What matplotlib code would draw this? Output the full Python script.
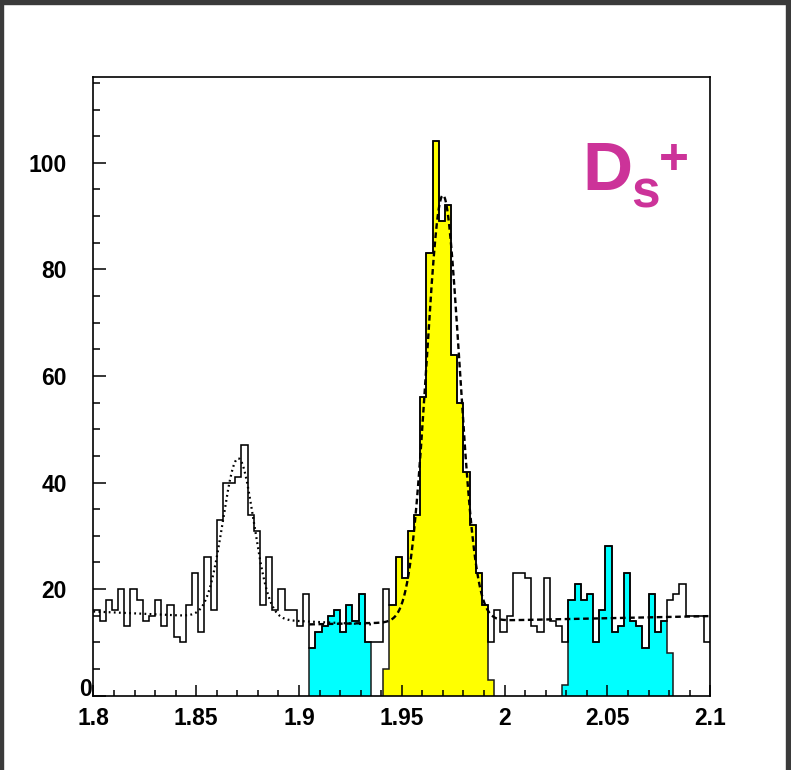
import numpy as np
import matplotlib
matplotlib.use("Agg")
import matplotlib.pyplot as plt
from matplotlib.patches import Rectangle
from matplotlib.ticker import MultipleLocator

# ---------------- data ----------------
x_min, x_max, n_bins = 1.8, 2.1, 100

counts = [16, 14, 18, 16, 20, 13, 20, 18, 14, 15,
          18, 13, 17, 11, 10, 17, 23, 12, 26, 16,
          33, 40, 40, 41, 47, 34, 31, 17, 26, 16,
          20, 16, 16, 13, 19, 9, 12, 13, 15, 16,
          12, 17, 14, 19, 10, 10, 10, 20, 17, 26,
          22, 31, 34, 56, 83, 104, 89, 92, 64, 55,
          42, 32, 23, 17, 10, 16, 12, 15, 23, 23,
          22, 13, 12, 22, 14, 13, 10, 18, 21, 18,
          19, 10, 16, 28, 12, 13, 23, 14, 13, 9,
          19, 12, 14, 18, 19, 21, 15, 15, 15, 10]

signal_first_bin = 47
signal_fill = [5, 17, 26, 22, 31, 34, 56, 83, 104, 89, 92, 64, 55, 42, 32, 23, 17, 3]

side_lo_first_bin = 35
side_lo_fill = [9, 12, 13, 15, 16, 12, 17, 14, 19, 10]

side_hi_first_bin = 76
side_hi_fill = [2, 18, 21, 18, 19, 10, 16, 28, 12, 13, 23, 14, 13, 9, 19, 12, 14, 8]

# fitted curves (parameters)
dplus_fit = {"mean": 1.8705, "sigma": 0.0075, "amp": 30.0,
             "bkg0": 15.8, "bkg_slope": -18.0, "bkg_ref": 1.8,
             "lo": 1.8, "hi": 1.935}
ds_fit = {"mean": 1.970, "sigma": 0.0080, "amp": 80.0,
          "bkg0": 13.5, "bkg_slope": 8.0, "bkg_ref": 1.92,
          "lo": 1.905, "hi": 2.1}

x_ticks = [1.8, 1.85, 1.9, 1.95, 2.0, 2.05, 2.1]
x_tick_labels = ["1.8", "1.85", "1.9", "1.95", "2", "2.05", "2.1"]
y_ticks = [0, 20, 40, 60, 80, 100]
y_tick_labels = ["0", "20", "40", "60", "80", "100"]
y_max = 116.1

title_main, title_sub, title_sup = "D", "s", "+"

# ---------------- figure ----------------
W, H = 791, 770
fig = plt.figure(figsize=(W / 100, H / 100), dpi=100)
fig.patch.set_facecolor("white")

def fx(px):
    return px / W

def fy(py):
    return 1 - py / H

ax_l, ax_r, ax_t, ax_b = 93.4, 710.2, 77.0, 695.7
ax = fig.add_axes([fx(ax_l), fy(ax_b), fx(ax_r - ax_l), (ax_b - ax_t) / H])

edges = np.linspace(x_min, x_max, n_bins + 1)

def fill_hist(values, first, color):
    e = edges[first:first + len(values) + 1]
    ax.stairs(values, e, fill=True, facecolor=color, edgecolor="none", zorder=1)
    ax.stairs(values, e, baseline=0, fill=False, color="#1a1a1a", lw=1.1, zorder=1.5)

fill_hist(side_lo_fill, side_lo_first_bin, "#00ffff")
fill_hist(side_hi_fill, side_hi_first_bin, "#00ffff")
fill_hist(signal_fill, signal_first_bin, "#ffff00")

ax.stairs(counts, edges, baseline=None, color="black", lw=1.15, zorder=2)

def fit_curve(p):
    x = np.linspace(p["lo"], p["hi"], 800)
    y = (p["bkg0"] + p["bkg_slope"] * (x - p["bkg_ref"])
         + p["amp"] * np.exp(-0.5 * ((x - p["mean"]) / p["sigma"]) ** 2))
    return x, y

xd, yd = fit_curve(dplus_fit)
ax.plot(xd, yd, color="black", lw=1.6, linestyle=(0, (0.8, 1.5)), zorder=3)
xs, ys = fit_curve(ds_fit)
ax.plot(xs, ys, color="black", lw=1.7, linestyle=(0, (2.4, 1.5)), zorder=3)

ax.set_xlim(x_min, x_max)
ax.set_ylim(0, y_max)

font = "Liberation Sans"
ax.set_xticks(x_ticks)
ax.set_xticklabels(x_tick_labels, fontfamily=font, fontweight="bold", fontsize=16.5)
ax.set_yticks(y_ticks)
ax.set_yticklabels(y_tick_labels, fontfamily=font, fontweight="bold", fontsize=16.5)
ax.xaxis.set_minor_locator(MultipleLocator(0.01))
ax.yaxis.set_minor_locator(MultipleLocator(5))
ax.tick_params(axis="both", which="both", direction="in", top=False, right=False,
               width=1.1, color="black")
ax.tick_params(axis="x", which="major", length=8, pad=8)
ax.tick_params(axis="x", which="minor", length=4.5)
ax.tick_params(axis="y", which="major", length=9.5, pad=19)
ax.tick_params(axis="y", which="minor", length=5)
for s in ax.spines.values():
    s.set_linewidth(1.2)
    s.set_color("black")

# the "0" label sits in the corner next to the axis
ax.get_yticklabels()[0].set_visible(False)
fig.text(fx(92), fy(689), y_tick_labels[0], ha="right", va="center",
         fontfamily=font, fontweight="bold", fontsize=16.5)

# D_s^+ label
mag = "#cc3399"
fig.text(fx(582), fy(190), title_main, ha="left", va="baseline", color=mag,
         fontfamily=font, fontweight="bold", fontsize=50)
fig.text(fx(631), fy(208), title_sub, ha="left", va="baseline", color=mag,
         fontfamily=font, fontweight="bold", fontsize=37)
fig.text(fx(659), fy(174), title_sup, ha="left", va="baseline", color=mag,
         fontfamily=font, fontweight="bold", fontsize=37)

# dark screenshot frame
frame_c = "#3a3a3a"
fig.patches.append(Rectangle((0, fy(4)), 1, 4 / H, transform=fig.transFigure,
                             color=frame_c, zorder=10))
fig.patches.append(Rectangle((0, 0), 3 / W, 1, transform=fig.transFigure,
                             color=frame_c, zorder=10))
fig.patches.append(Rectangle((1 - 5 / W, 0), 5 / W, 1, transform=fig.transFigure,
                             color=frame_c, zorder=10))

fig.savefig("out.png", dpi=100)
